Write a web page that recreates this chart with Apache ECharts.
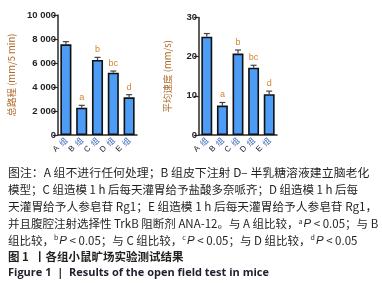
<!DOCTYPE html>
<html>
<head>
<meta charset="utf-8">
<script src="https://cdn.jsdelivr.net/npm/echarts@6/dist/echarts.min.js"></script>
<style>
  html, body { margin: 0; padding: 0; background: #fff; }
  #chart { width: 382px; height: 283px; }
</style>
</head>
<body>
<div id="chart"></div>
<script>
// data
const groups = ['A', 'B', 'C', 'D', 'E']
const distanceMean = [7560, 2280, 6250, 5190, 3140]
const distanceSem = [220, 190, 220, 140, 220]
const speedMean = [25.1, 7.5, 20.8, 17.2, 10.4]
const speedSem = [0.8, 0.8, 0.9, 0.6, 0.8]
const sigMarks = ['', 'a', 'b', 'bc', 'd']
const distanceTicks = { min: 0, max: 10000, interval: 2000 }
const speedTicks = { min: 0, max: 30, interval: 10 }

const captionLines = [
  '图注：A 组不进行任何处理；B 组皮下注射 D– 半乳糖溶液建立脑老化',
  '模型；C 组造模 1 h 后每天灌胃给予盐酸多奈哌齐；D 组造模 1 h 后每',
  '天灌胃给予人参皂苷 Rg1；E 组造模 1 h 后每天灌胃给予人参皂苷 Rg1，',
  '并且腹腔注射选择性 TrkB 阻断剂 ANA-12。与 A 组比较，{sup|a}{it|P} < 0.05；与 B',
  '组比较，{sup|b}{it|P} < 0.05；与 C 组比较，{sup|c}{it|P} < 0.05；与 D 组比较，{sup|d}{it|P} < 0.05',
]
const captionSizes = [11.9, 11.5, 11.7, 11.5, 11.5]
const figTitleZh = '图 1  丨各组小鼠旷场实验测试结果'
const figTitleEn = 'Figure 1  |  Results of the open field test in mice'

const ink = '#231f20'
const barBlue = '#4d9cf6'
const axisDark = '#2b2b2b'
const titleBrown = '#b06a2c'
const markOrange = '#d5832c'
const cjk = '"Noto Sans CJK SC", sans-serif'

function fmtThousands(v) {
  return String(v).replace(/\B(?=(\d{3})+(?!\d))/g, ' ')
}

function errorSeries(means, sems, axisIdx) {
  return {
    type: 'custom',
    xAxisIndex: axisIdx,
    yAxisIndex: axisIdx,
    z: 5,
    data: means.map((m, i) => [i, m, m + sems[i]]),
    renderItem(params, api) {
      const i = api.value(0)
      const base = api.coord([i, api.value(1)])
      const top = api.coord([i, api.value(2)])
      const half = 3
      const style = { stroke: '#444', lineWidth: 1.2 }
      return {
        type: 'group',
        children: [
          { type: 'line', shape: { x1: base[0], y1: base[1], x2: top[0], y2: top[1] }, style },
          { type: 'line', shape: { x1: top[0] - half, y1: top[1], x2: top[0] + half, y2: top[1] }, style },
          {
            type: 'text',
            style: {
              text: sigMarks[params.dataIndex],
              x: top[0],
              y: top[1] - 3,
              align: 'center',
              verticalAlign: 'bottom',
              fill: markOrange,
              font: '9px "Liberation Sans", sans-serif',
            },
          },
        ],
      }
    },
  }
}

function xAxisFor(gridIndex) {
  return {
    type: 'category',
    gridIndex,
    data: groups,
    axisLine: { lineStyle: { color: axisDark, width: 1.5 } },
    axisTick: { alignWithLabel: true, length: 4, lineStyle: { color: axisDark, width: 1.2 } },
    axisLabel: {
      interval: 0,
      rotate: 45,
      margin: 4,
      hideOverlap: false,
      formatter: (v) => `{l|${v}} {z|组}`,
      rich: {
        l: { fontSize: 8, color: ink, fontFamily: '"Liberation Sans", sans-serif' },
        z: { fontSize: 8, color: '#3a68b8', fontFamily: cjk },
      },
    },
  }
}

function yAxisFor(gridIndex, ticks, name, nameGap, labelFmt) {
  return {
    type: 'value',
    gridIndex,
    min: ticks.min,
    max: ticks.max,
    interval: ticks.interval,
    name,
    nameLocation: 'middle',
    nameGap,
    nameRotate: 90,
    nameTextStyle: { color: titleBrown, fontSize: 9.5, fontFamily: cjk },
    splitLine: { show: false },
    axisLine: { show: true, lineStyle: { color: axisDark, width: 1.5 } },
    axisTick: { show: true, length: 5, lineStyle: { color: axisDark, width: 1.2 } },
    axisLabel: {
      margin: 2,
      color: ink,
      fontSize: 9.5,
      fontWeight: 'bold',
      fontFamily: '"Liberation Sans", sans-serif',
      formatter: labelFmt,
    },
  }
}

function barSeries(values, axisIdx) {
  return {
    type: 'bar',
    xAxisIndex: axisIdx,
    yAxisIndex: axisIdx,
    data: values,
    barWidth: '70%',
    itemStyle: { color: barBlue, borderColor: '#111', borderWidth: 1.6 },
    z: 2,
  }
}

const captionTop = 167
const lineGap = 16.8

const graphic = captionLines.map((t, i) => ({
  type: 'text',
  left: 8,
  top: captionTop + i * lineGap,
  style: {
    text: t,
    fill: ink,
    font: `${captionSizes[i]}px ${cjk}`,
    rich: {
      sup: { fontSize: 7, verticalAlign: 'top', fill: ink, fontFamily: cjk, padding: [0, 1, 6, 0] },
      it: { fontSize: captionSizes[i], fontStyle: 'italic', fill: ink, fontFamily: '"Liberation Sans", sans-serif' },
    },
  },
}))
graphic.push({
  type: 'text',
  left: 8,
  top: captionTop + 5 * lineGap,
  style: { text: figTitleZh, fill: ink, font: `bold 11.5px ${cjk}` },
})
graphic.push({
  type: 'text',
  left: 8,
  top: captionTop + 6 * lineGap,
  style: { text: figTitleEn, fill: '#1f1f2e', font: 'bold 11px "Open Sans", sans-serif' },
})

const chart = echarts.init(document.getElementById('chart'), null, { renderer: 'canvas' })
chart.setOption({
  animation: false,
  backgroundColor: '#ffffff',
  grid: [
    { left: 58, top: 15, width: 79, height: 120 },
    { left: 199, top: 17.5, width: 78, height: 117.5 },
  ],
  xAxis: [xAxisFor(0), xAxisFor(1)],
  yAxis: [
    yAxisFor(0, distanceTicks, '总路程 (mm/5 min)', 42, fmtThousands),
    yAxisFor(1, speedTicks, '平均速度 (mm/s)', 27, (v) => String(v)),
  ],
  series: [
    barSeries(distanceMean, 0),
    errorSeries(distanceMean, distanceSem, 0),
    barSeries(speedMean, 1),
    errorSeries(speedMean, speedSem, 1),
  ],
  graphic,
})
</script>
</body>
</html>
